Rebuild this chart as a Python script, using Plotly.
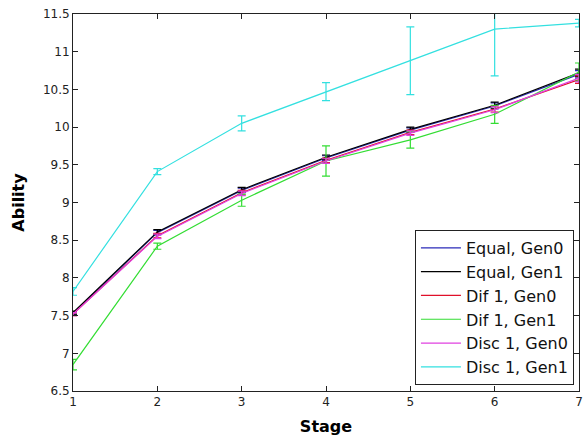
import plotly.graph_objects as go

stages = [1, 2, 3, 4, 5, 6, 7]

names = ["Equal, Gen0", "Equal, Gen1", "Dif 1, Gen0", "Dif 1, Gen1", "Disc 1, Gen0", "Disc 1, Gen1"]

eq_gen0 = [7.53, 8.60, 9.16, 9.59, 9.96, 10.28, 10.70]
eq_gen1 = [7.54, 8.61, 9.17, 9.60, 9.97, 10.29, 10.72]
dif_gen0 = [7.52, 8.56, 9.13, 9.56, 9.93, 10.24, 10.63]
dif_gen1 = [6.85, 8.42, 9.03, 9.55, 9.83, 10.17, 10.73]
disc_gen0 = [7.52, 8.55, 9.12, 9.55, 9.92, 10.23, 10.65]
disc_gen1 = [7.82, 9.41, 10.05, 10.47, 10.88, 11.30, 11.38]

eq_gen0_err = [0.02, 0.03, 0.03, 0.03, 0.03, 0.04, 0.05]
eq_gen1_err = [0.02, 0.03, 0.03, 0.03, 0.03, 0.04, 0.05]
dif_gen0_err = [0.02, 0.03, 0.03, 0.03, 0.03, 0.04, 0.05]
dif_gen1_err = [0.07, 0.04, 0.08, 0.20, 0.11, 0.12, 0.12]
disc_gen0_err = [0.02, 0.03, 0.03, 0.03, 0.03, 0.04, 0.05]
disc_gen1_err = [0.05, 0.04, 0.10, 0.12, 0.45, 0.62, 0.05]

colors = ["#2a2ab8", "#000000", "#e0102a", "#33dd33", "#e040e0", "#33e0e0"]

series = [eq_gen0, eq_gen1, dif_gen0, dif_gen1, disc_gen0, disc_gen1]
errors = [eq_gen0_err, eq_gen1_err, dif_gen0_err, dif_gen1_err, disc_gen0_err, disc_gen1_err]

fig = go.Figure()
for name, ys, es, c in zip(names, series, errors, colors):
    fig.add_trace(go.Scatter(
        x=stages, y=ys, name=name, mode="lines",
        line=dict(color=c, width=1.2),
        error_y=dict(type="data", array=es, visible=True, color=c, thickness=1.2, width=4),
    ))

axis_common = dict(
    showline=True, linecolor="#222", linewidth=1, mirror="allticks",
    ticks="inside", ticklen=5, tickcolor="#222", showgrid=False, zeroline=False,
    automargin=False,
    tickfont=dict(family="DejaVu Sans", size=12, color="#222"),
)

fig.update_layout(
    width=584, height=441,
    margin=dict(l=73, r=5, t=14, b=50),
    paper_bgcolor="white", plot_bgcolor="white",
    xaxis=dict(range=[1, 7], tickvals=stages, ticklabeloverflow="allow", **axis_common,
               title=dict(text="<b>Stage</b>", font=dict(family="DejaVu Sans", size=16, color="#000"), standoff=12)),
    yaxis=dict(range=[6.5, 11.5], dtick=0.5, tick0=6.5, **axis_common,
               title=dict(text="<b>Ability</b>", font=dict(family="DejaVu Sans", size=16, color="#000"), standoff=14)),
    legend=dict(x=0.99, xanchor="right", y=0.016, yanchor="bottom",
                bgcolor="white", bordercolor="#222", borderwidth=1,
                font=dict(family="DejaVu Sans", size=16, color="#111"),
                tracegroupgap=0, itemwidth=40),
    showlegend=True,
)

fig.write_html("out.html")
